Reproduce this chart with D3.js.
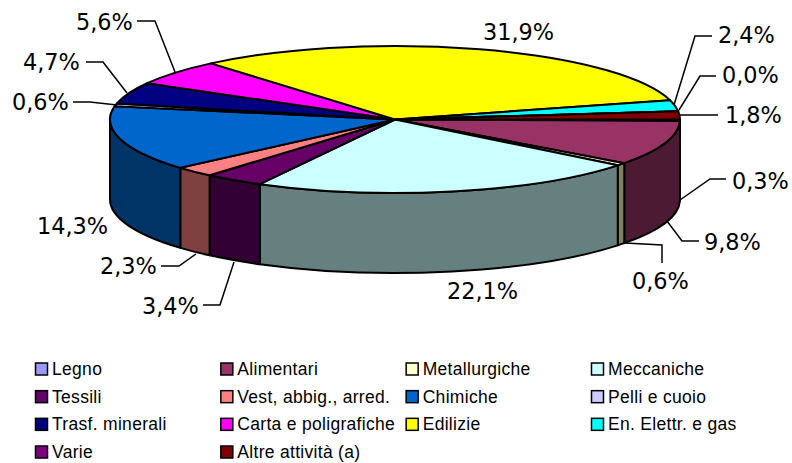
<!DOCTYPE html>
<html>

<head>
    <meta charset="UTF-8">
    <style>
        html, body {
            margin: 0;
            background: #fff;
        }

        svg {
            display: block;
        }

        .pct {
            font-family: "DejaVu Sans", Verdana, sans-serif;
            font-size: 22.4px;
            fill: #000;
        }

        .leg {
            font-family: "Liberation Sans", Arial, sans-serif;
            font-size: 17.5px;
            letter-spacing: 0.3px;
            fill: #000;
        }

        .leader {
            fill: none;
            stroke: #000;
            stroke-width: 1.5;
        }
    </style>
    <script src="https://d3js.org/d3.v7.min.js"></script>
    <title>Torta 3D</title>
</head>

<body>
    <svg id="chart" width="792" height="463"></svg>

    <script>
        var categories = ["Legno", "Alimentari", "Metallurgiche", "Meccaniche", "Tessili", "Vest, abbig., arred.",
            "Chimiche", "Pelli e cuoio", "Trasf. minerali", "Carta e poligrafiche", "Edilizie", "En. Elettr. e gas",
            "Varie", "Altre attività (a)"];
        var values = [0.3, 9.8, 0.6, 22.1, 3.4, 2.3, 14.3, 0.6, 4.7, 5.6, 31.9, 2.4, 0.0, 1.8];
        var colors = ["#9999ff", "#993366", "#ffffcc", "#ccffff", "#660066", "#ff8080",
            "#0066cc", "#ccccff", "#000080", "#ff00ff", "#ffff00", "#00ffff", "#800080", "#800000"];

        var cx = 395, cy = 119.5, rx = 285, ry = 73.5, depth = 80;

        // posizione delle etichette, stesso ordine delle categorie: [x testo, y base, punti della linea guida]
        var labelPos = [
            [732, 189, [[680, 200], [710, 179], [726, 179]]],
            [704, 250, [[667, 221], [682, 241], [699, 241]]],
            [632, 289, [[625, 243], [662, 245], [662, 263]]],
            [447, 299, null],
            [142, 314, [[234, 262], [220, 305], [203, 305]]],
            [100, 274, [[196, 254], [179, 266], [161, 266]]],
            [37, 234, null],
            [12, 110, [[117, 105], [90, 102], [73, 102]]],
            [23, 70, [[127, 93], [103, 62], [86, 62]]],
            [76, 30, [[175, 72], [155, 21], [137, 21]]],
            [483, 40, null],
            [718, 43, [[674, 105], [695, 36], [712, 36]]],
            [722, 83, [[679, 110], [700, 76], [716, 76]]],
            [725, 123, [[680, 115], [718, 115]]]
        ];

        var svg = d3.select("#chart");

        // parte dalle ore 3, senso orario
        var pie = d3.pie().sort(null).startAngle(Math.PI / 2).endAngle(Math.PI / 2 + 2 * Math.PI);
        var slices = pie(values);

        function px(a) { return cx + rx * Math.sin(a); }
        function py(a) { return cy - ry * Math.cos(a); }

        // fianco visibile: solo la metà anteriore dell'ellisse
        function sidePath(d) {
            var a0 = Math.max(d.startAngle, Math.PI / 2),
                a1 = Math.min(d.endAngle, 3 * Math.PI / 2);
            if (a1 <= a0) return null;
            return "M" + px(a0) + "," + py(a0) +
                "A" + rx + "," + ry + " 0 0 1 " + px(a1) + "," + py(a1) +
                "L" + px(a1) + "," + (py(a1) + depth) +
                "A" + rx + "," + ry + " 0 0 0 " + px(a0) + "," + (py(a0) + depth) + "Z";
        }

        function dark(c) {
            var k = d3.rgb(c);
            return d3.rgb(k.r / 2, k.g / 2, k.b / 2).formatHex();
        }

        svg.append("g").selectAll("path")
            .data(slices.filter(function(d) { return sidePath(d) !== null; }))
            .enter().append("path")
            .attr("d", sidePath)
            .attr("fill", function(d) { return dark(colors[d.index]); })
            .attr("stroke", "#000")
            .attr("stroke-width", 2)
            .attr("stroke-linejoin", "round");

        var arc = d3.arc().innerRadius(0).outerRadius(rx);

        svg.append("g")
            .attr("transform", "translate(" + cx + "," + cy + ") scale(1," + (ry / rx) + ")")
            .selectAll("path")
            .data(slices)
            .enter().append("path")
            .attr("d", arc)
            .attr("fill", function(d) { return colors[d.index]; })
            .attr("stroke", "#000")
            .attr("stroke-width", 2)
            .attr("stroke-linejoin", "round")
            .attr("vector-effect", "non-scaling-stroke");

        // etichette percentuali con virgola decimale
        var fmt = d3.format(".1f");
        var line = d3.line();

        svg.append("g").selectAll("path")
            .data(labelPos.filter(function(d) { return d[2]; }))
            .enter().append("path")
            .attr("class", "leader")
            .attr("d", function(d) { return line(d[2]); });

        svg.append("g").selectAll("text")
            .data(values)
            .enter().append("text")
            .attr("class", "pct")
            .attr("x", function(d, i) { return labelPos[i][0]; })
            .attr("y", function(d, i) { return labelPos[i][1]; })
            .text(function(d) { return fmt(d).replace(".", ",") + "%"; });

        // legenda su 4 colonne
        var colX = d3.scalePoint().domain(d3.range(4)).range([35, 591]);
        var rowY = d3.scalePoint().domain(d3.range(4)).range([369, 452]);

        var leg = svg.append("g").selectAll("g")
            .data(categories)
            .enter().append("g")
            .attr("transform", function(d, i) {
                return "translate(" + colX(i % 4) + "," + rowY(Math.floor(i / 4)) + ")";
            });

        leg.append("rect")
            .attr("x", 0.5)
            .attr("y", -6)
            .attr("width", 12)
            .attr("height", 12)
            .attr("fill", function(d, i) { return colors[i]; })
            .attr("stroke", "#000")
            .attr("stroke-width", 1.5);

        leg.append("text")
            .attr("class", "leg")
            .attr("x", 17)
            .attr("y", 6)
            .text(function(d) { return d; });
    </script>
</body>

</html>
